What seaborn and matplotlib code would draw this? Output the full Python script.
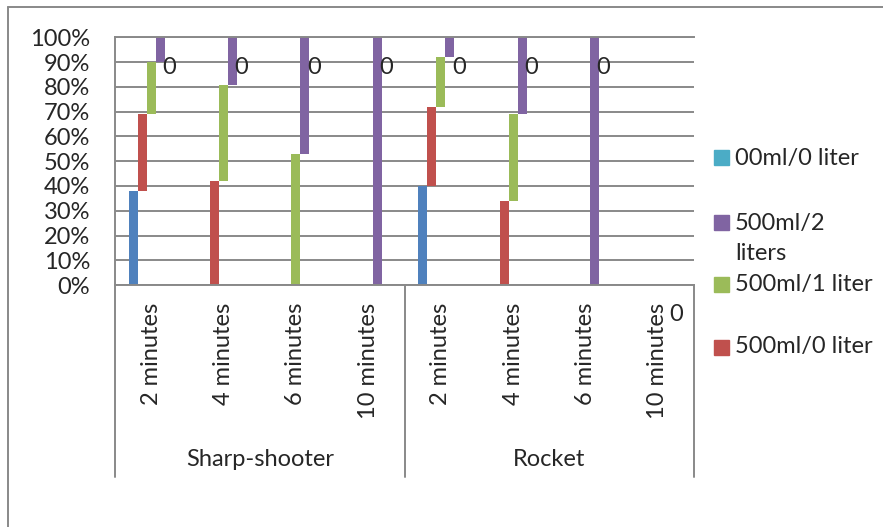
import numpy as np
import matplotlib.pyplot as plt
import matplotlib.lines as mlines
import matplotlib.patches as mpatches
import seaborn as sns

# Category labels (two-level axis)
groups = ["Sharp-shooter", "Rocket"]
times = ["2 minutes", "4 minutes", "6 minutes", "10 minutes"]

# Stacked shares (%), bottom to top, one value per group/time
blue_vals = [38, 0, 0, 0, 40, 0, 0, 0]
red_vals = [31, 42, 0, 0, 32, 34, 0, 0]
green_vals = [21, 39, 53, 0, 20, 35, 0, 0]
purple_vals = [10, 19, 47, 100, 8, 31, 100, 0]
teal_vals = [0, 0, 0, 0, 0, 0, 0, 0]

series = [blue_vals, red_vals, green_vals, purple_vals, teal_vals]
series_names = ["", "500ml/0 liter", "500ml/1 liter", "500ml/2\nliters", "00ml/0 liter"]
series_colors = ["#4F81BD", "#C0504D", "#9BBB59", "#8064A2", "#4BACC6"]

W, H = 883, 527
gray = "#898989"
fs = 17

sns.set_style("white")
plt.rcParams['font.family'] = ['Lato', 'DejaVu Sans']

fig = plt.figure(figsize=(W / 100, H / 100), dpi=100)
ax = fig.add_axes([115 / W, 1 - 285 / H, (694 - 115) / W, (285 - 37.5) / H])

cats = np.arange(len(groups) * len(times))
bar_w = 0.124
bottom = np.zeros(len(cats))
for k, (vals, color) in enumerate(zip(series, series_colors)):
    vals = np.array(vals, dtype=float)
    sns.barplot(x=cats + (k - 2) * bar_w, y=vals, native_scale=True, orient="v",
                width=bar_w, color=color, saturation=1, errorbar=None,
                bottom=bottom.copy(), linewidth=0, ax=ax)
    bottom += vals

# data labels of the (empty) last series
for i in cats:
    ax.text(i + 2 * bar_w, bottom[i] - 12, "0", ha="center", va="center",
            fontsize=fs, clip_on=False)

ax.set_xlim(-0.5, 7.5)
ax.set_ylim(0, 100)
ax.set_yticks(np.arange(0, 101, 10))
ax.set_yticklabels([f"{v}%" for v in range(0, 101, 10)], fontsize=fs)
ax.set_xticks(cats)
ax.set_xticklabels(times * len(groups), rotation=90, ha="center", va="top", fontsize=fs)
ax.tick_params(axis="y", length=0, pad=18)
ax.tick_params(axis="x", length=0, pad=13)
ax.set_xlabel("")
ax.set_ylabel("")
ax.yaxis.grid(True, color=gray, linewidth=1.4)
ax.set_axisbelow(True)
for side in ["left", "bottom", "top"]:
    ax.spines[side].set_color(gray)
    ax.spines[side].set_linewidth(1.4)
ax.spines["right"].set_visible(False)

# group dividers and labels under the axis
trans = ax.get_xaxis_transform()
for xd in [-0.5, 3.5, 7.5]:
    ax.plot([xd, xd], [0, -(477 - 285) / 247.5], color=gray, lw=1.4,
            transform=trans, clip_on=False)
for g, name in enumerate(groups):
    ax.text(g * 4 + 1.5, -(460 - 285) / 247.5, name, ha="center", va="center",
            fontsize=fs, transform=trans)

# legend (drawn by hand to match the spreadsheet layout)
legend_rows = [(4, 158), (3, 222), (2, 284), (1, 347)]
for idx, yc in legend_rows:
    fig.patches.append(mpatches.Rectangle((714 / W, 1 - (yc + 7.5) / H), 15 / W, 15 / H,
                                          color=series_colors[idx], transform=fig.transFigure))
    if "\n" in series_names[idx]:
        fig.text(735 / W, 1 - (yc - 9) / H, series_names[idx], ha="left", va="top",
                 fontsize=fs, linespacing=1.5)
    else:
        fig.text(735 / W, 1 - yc / H, series_names[idx], ha="left", va="center", fontsize=fs)

# chart area border (only left and top visible)
fig.add_artist(mlines.Line2D([8 / W, 8 / W], [0, 1 - 7 / H], color=gray, lw=1.4))
fig.add_artist(mlines.Line2D([8 / W, 1], [1 - 7 / H, 1 - 7 / H], color=gray, lw=1.4))

fig.savefig("out.png", dpi=100)
